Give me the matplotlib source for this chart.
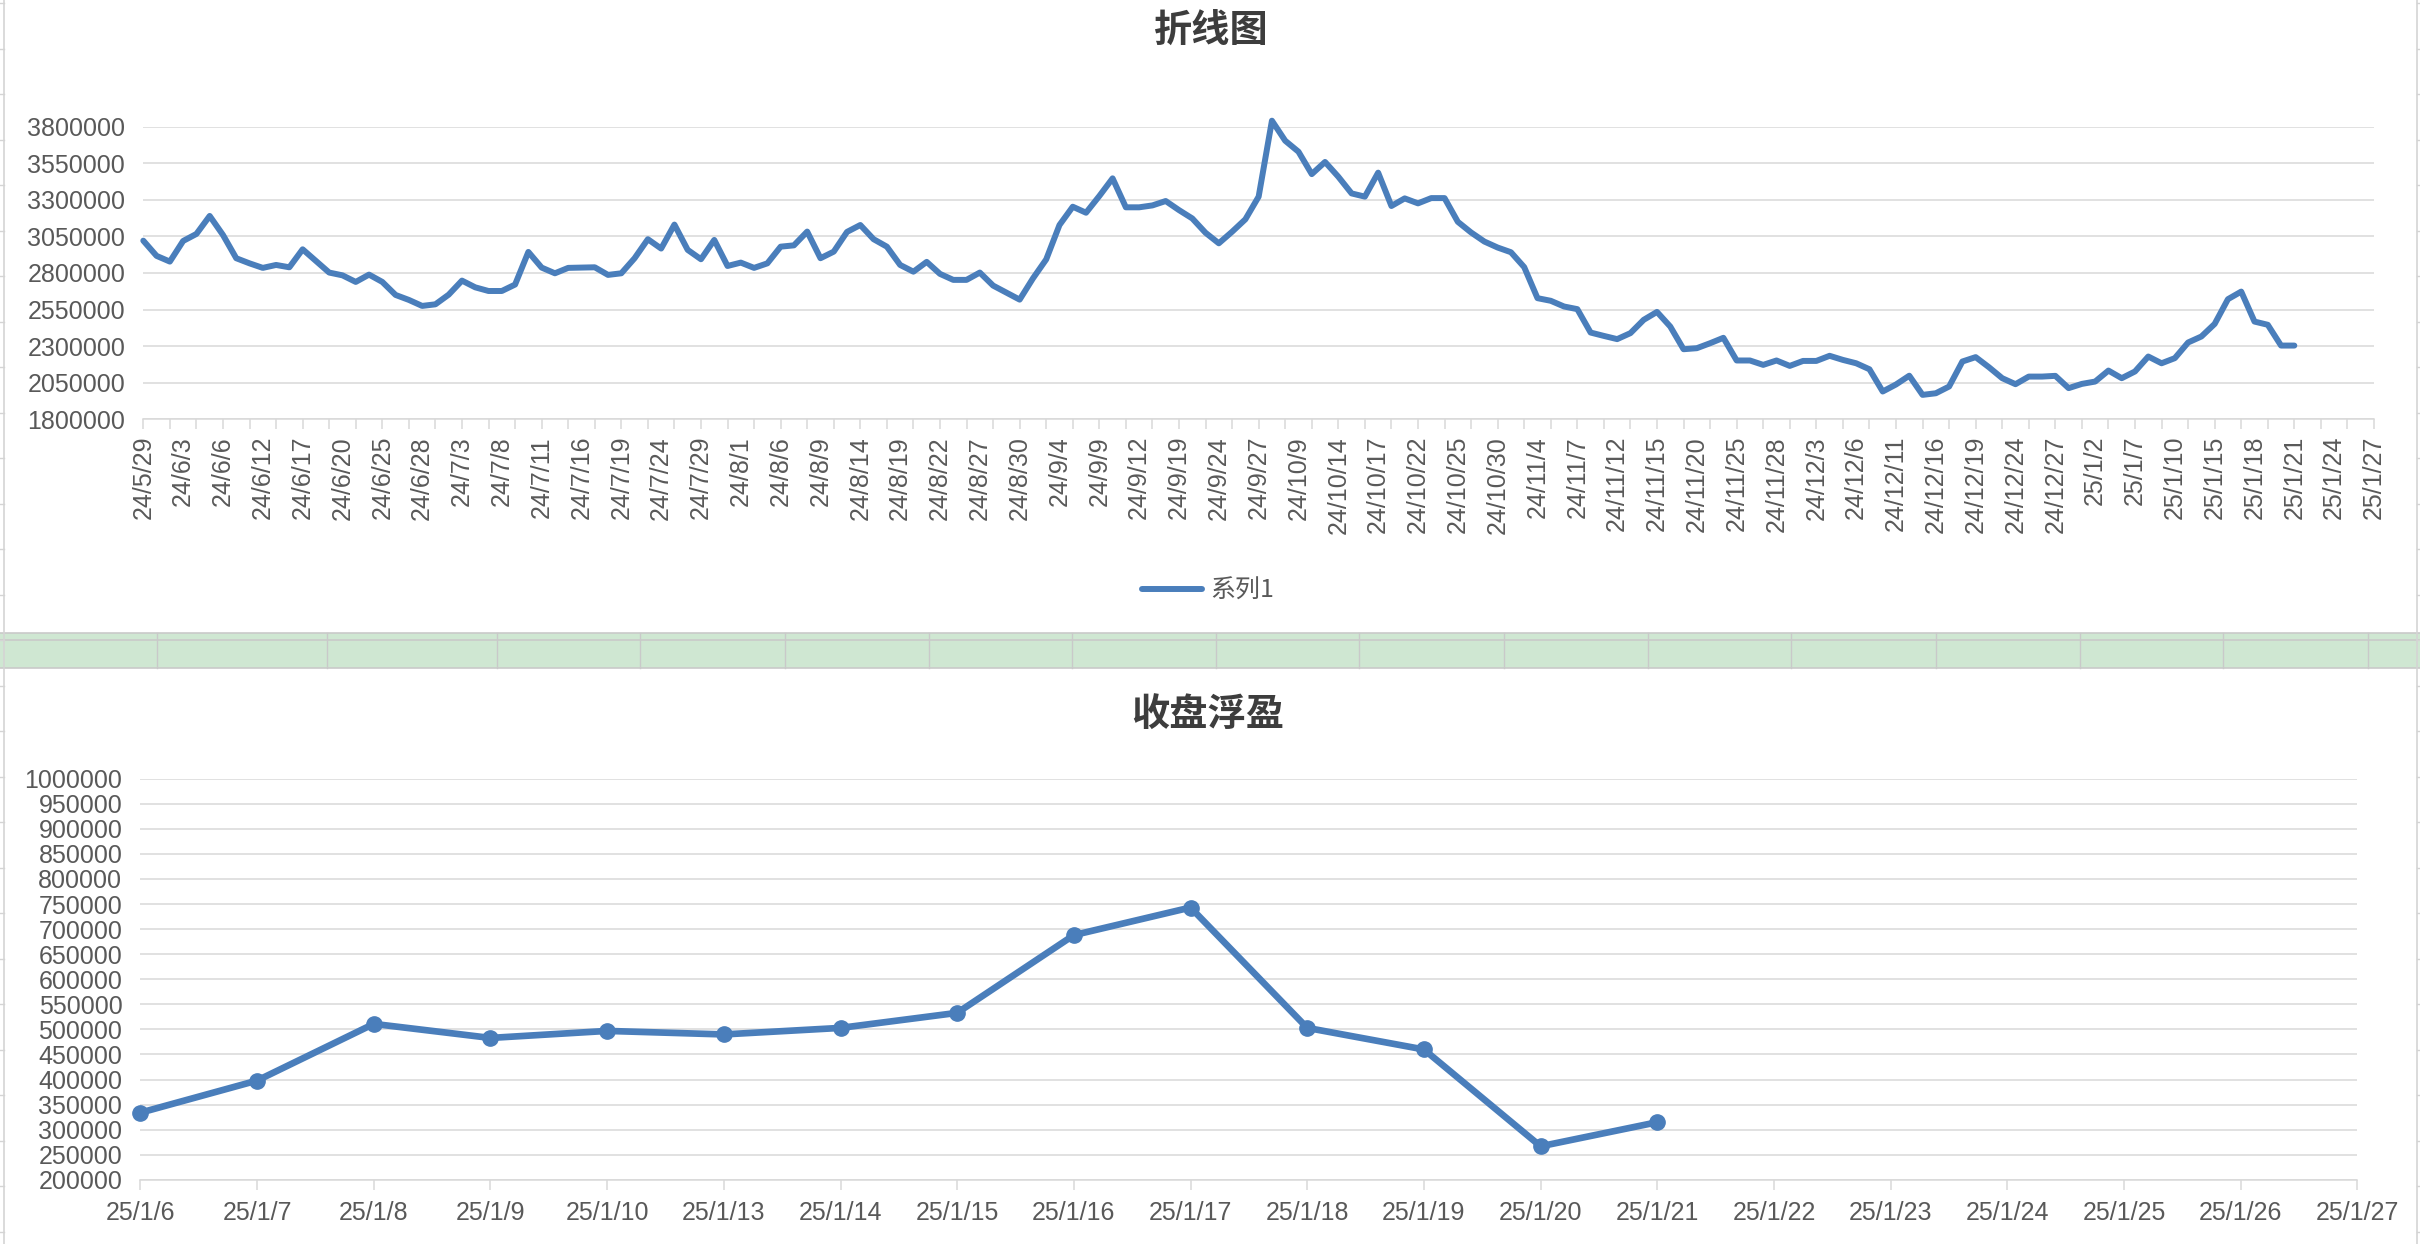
import numpy as np
import matplotlib
matplotlib.use("Agg")
import matplotlib.pyplot as plt
from matplotlib.patches import Rectangle
from matplotlib.lines import Line2D

# ---------------- data ----------------
month_days = [
    ("24/5", [29, 30, 31]),
    ("24/6", [3, 4, 5, 6, 7, 11, 12, 13, 14, 17, 18, 19, 20, 21, 24, 25, 26, 27, 28]),
    ("24/7", [1, 2, 3, 4, 5, 8, 9, 10, 11, 12, 15, 16, 17, 18, 19, 22, 23, 24, 25, 26, 29, 30, 31]),
    ("24/8", [1, 2, 5, 6, 7, 8, 9, 12, 13, 14, 15, 16, 19, 20, 21, 22, 23, 26, 27, 28, 29, 30]),
    ("24/9", [2, 3, 4, 5, 6, 9, 10, 11, 12, 13, 18, 19, 20, 23, 24, 25, 26, 27, 30]),
    ("24/10", [8, 9, 10, 11, 14, 15, 16, 17, 18, 21, 22, 23, 24, 25, 28, 29, 30, 31]),
    ("24/11", [1, 4, 5, 6, 7, 8, 11, 12, 13, 14, 15, 18, 19, 20, 21, 22, 25, 26, 27, 28, 29]),
    ("24/12", [2, 3, 4, 5, 6, 9, 10, 11, 12, 13, 16, 17, 18, 19, 20, 23, 24, 25, 26, 27, 30, 31]),
    ("25/1", [2, 3, 6, 7, 8, 9, 10, 13, 14, 15, 16, 17, 18, 19, 20, 21, 22, 23, 24, 25, 26, 27]),
]
dates_top = [f"{m}/{d}" for m, ds in month_days for d in ds]

values_top = [
    3021000, 2917000, 2878000, 3019000, 3067000, 3190000, 3060000, 2901000, 2866000, 2835000,
    2855000, 2839000, 2962000, 2882000, 2803000, 2784000, 2739000, 2789000, 2739000, 2650000,
    2616000, 2575000, 2586000, 2652000, 2748000, 2702000, 2677000, 2677000, 2721000, 2944000,
    2837000, 2798000, 2835000, 2837000, 2839000, 2787000, 2798000, 2901000, 3031000, 2967000,
    3131000, 2958000, 2894000, 3026000, 2848000, 2871000, 2835000, 2866000, 2980000, 2989000,
    3083000, 2901000, 2946000, 3081000, 3128000, 3031000, 2980000, 2855000, 2809000, 2876000,
    2794000, 2753000, 2753000, 2803000, 2714000, 2666000, 2618000, 2763000, 2893000, 3128000,
    3253000, 3212000, 3326000, 3447000, 3249000, 3249000, 3262000, 3292000, 3230000, 3173000,
    3075000, 3003000, 3082000, 3167000, 3322000, 3841000, 3704000, 3629000, 3476000, 3559000,
    3458000, 3344000, 3322000, 3486000, 3258000, 3310000, 3276000, 3312000, 3312000, 3150000,
    3077000, 3015000, 2974000, 2942000, 2840000, 2628000, 2610000, 2571000, 2553000, 2393000,
    2370000, 2348000, 2389000, 2480000, 2534000, 2434000, 2279000, 2286000, 2320000, 2357000,
    2202000, 2202000, 2172000, 2202000, 2165000, 2199000, 2199000, 2234000, 2206000, 2183000,
    2142000, 1990000, 2038000, 2098000, 1967000, 1978000, 2024000, 2195000, 2225000, 2156000,
    2081000, 2040000, 2092000, 2092000, 2097000, 2013000, 2042000, 2058000, 2133000, 2081000,
    2127000, 2229000, 2183000, 2218000, 2325000, 2366000, 2452000, 2621000, 2673000, 2468000,
    2446000, 2304000, 2304000,
]
yticks_top = [1800000, 2050000, 2300000, 2550000, 2800000, 3050000, 3300000, 3550000, 3800000]
series_name = "系列1"
title_top = "折线图"

dates_bottom = ["25/1/6", "25/1/7", "25/1/8", "25/1/9", "25/1/10", "25/1/13", "25/1/14",
                "25/1/15", "25/1/16", "25/1/17", "25/1/18", "25/1/19", "25/1/20", "25/1/21",
                "25/1/22", "25/1/23", "25/1/24", "25/1/25", "25/1/26", "25/1/27"]
values_bottom = [334000, 398000, 511000, 483000, 497000, 490000, 503000, 533000,
                 688000, 743000, 503000, 460000, 267000, 315000]
yticks_bottom = list(range(200000, 1000001, 50000))
title_bottom = "收盘浮盈"

# ---------------- style ----------------
W, H = 2420, 1244
BLUE = "#4a7ebb"
GRID = "#d9d9d9"
TXT = "#595959"
TITLE = "#3d3d3d"
CJK = ["Noto Sans CJK SC", "DejaVu Sans"]
plt.rcParams["font.family"] = ["Liberation Sans", "Noto Sans CJK SC", "DejaVu Sans"]

fig = plt.figure(figsize=(W / 100, H / 100), dpi=100)
fig.patch.set_facecolor("white")


def fx(px):
    return px / W


def fy(py):
    return 1 - py / H


# ---------------- spreadsheet background ----------------
fig.add_artist(Rectangle((0, fy(668)), 1, fy(633) - fy(668), transform=fig.transFigure,
                         facecolor="#cfe7d2", edgecolor="none", zorder=0))
for yy in (633, 640, 668):
    fig.add_artist(Line2D([0, 1], [fy(yy)] * 2, transform=fig.transFigure,
                          color="#c9c9c9", lw=1.2, zorder=1))
col_x = [157, 327, 497, 640, 785, 929, 1072, 1216, 1359, 1504, 1648, 1791, 1936, 2080, 2223, 2368]
for xx in col_x:
    fig.add_artist(Line2D([fx(xx)] * 2, [fy(633), fy(668)], transform=fig.transFigure,
                          color="#c9c9c9", lw=1.0, zorder=1))
for xx in (4, 2417):
    fig.add_artist(Line2D([fx(xx)] * 2, [0, 1], transform=fig.transFigure,
                          color="#d4d4d4", lw=1.2, zorder=1))
for yy in np.arange(640 - 45.5 * 14, H, 45.5):
    for x0, x1 in ((0, 4), (2417, W)):
        fig.add_artist(Line2D([fx(x0), fx(x1)], [fy(yy)] * 2, transform=fig.transFigure,
                              color="#d4d4d4", lw=1.0, zorder=1))

# ---------------- top chart ----------------
ax1 = fig.add_axes([fx(143.3), fy(419.3), fx(2374) - fx(143.3), fy(126.7) - fy(419.3)])
x_top = np.arange(len(values_top))
ax1.plot(x_top, values_top, color=BLUE, lw=4.3, solid_joinstyle="round",
         solid_capstyle="round", clip_on=False, zorder=3, label=series_name)
ax1.set_xlim(0, len(dates_top) - 1)
ax1.set_ylim(yticks_top[0], yticks_top[-1])
ax1.set_yticks(yticks_top)
ax1.set_yticklabels([str(v) for v in yticks_top])
lab_pos = list(range(0, len(dates_top), 3))
ax1.set_xticks(lab_pos)
ax1.set_xticklabels([dates_top[i] for i in lab_pos])
ax1.set_xticks(list(range(0, len(dates_top), 2)), minor=True)
ax1.xaxis.remove_overlapping_locs = False
ax1.tick_params(axis="x", which="major", length=0, pad=12, labelrotation=90,
                labelsize=18, labelcolor=TXT)
ax1.tick_params(axis="x", which="minor", length=7.5, width=1.1, color=GRID)
ax1.tick_params(axis="y", length=0, pad=13, labelsize=18, labelcolor=TXT)
ax1.grid(axis="y", color=GRID, lw=1.1)
ax1.set_axisbelow(True)
for s in ("left", "right", "top"):
    ax1.spines[s].set_visible(False)
ax1.spines["bottom"].set_color(GRID)
ax1.spines["bottom"].set_linewidth(1.1)
leg = ax1.legend(loc="center", bbox_to_anchor=(fx(1208), fy(591)), bbox_transform=fig.transFigure,
                 frameon=False, prop={"family": CJK, "size": 18}, handlelength=2.4,
                 handletextpad=0.35)
for t in leg.get_texts():
    t.set_color(TXT)
fig.text(fx(1210), fy(31), title_top, ha="center", va="center", fontsize=27.5,
         fontweight="bold", color=TITLE, family=CJK)

# ---------------- bottom chart ----------------
ax2 = fig.add_axes([fx(140.4), fy(1179.9), fx(2357.4) - fx(140.4), fy(778.6) - fy(1179.9)])
x_bot = np.arange(len(values_bottom))
ax2.plot(x_bot, values_bottom, color=BLUE, lw=4.8, marker="o", markersize=11,
         markerfacecolor=BLUE, markeredgecolor=BLUE, solid_joinstyle="round",
         clip_on=False, zorder=3)
ax2.set_xlim(0, len(dates_bottom) - 1)
ax2.set_ylim(yticks_bottom[0], yticks_bottom[-1])
ax2.set_yticks(yticks_bottom)
ax2.set_yticklabels([str(v) for v in yticks_bottom])
ax2.set_xticks(np.arange(len(dates_bottom)))
ax2.set_xticklabels(dates_bottom)
ax2.tick_params(axis="x", length=7.5, width=1.1, color=GRID, pad=8, labelsize=18, labelcolor=TXT)
ax2.tick_params(axis="y", length=0, pad=13, labelsize=18, labelcolor=TXT)
ax2.grid(axis="y", color=GRID, lw=1.1)
ax2.set_axisbelow(True)
for s in ("left", "right", "top"):
    ax2.spines[s].set_visible(False)
ax2.spines["bottom"].set_color(GRID)
ax2.spines["bottom"].set_linewidth(1.1)
fig.text(fx(1208), fy(715), title_bottom, ha="center", va="center", fontsize=27.5,
         fontweight="bold", color=TITLE, family=CJK)

fig.savefig("out.png", dpi=100, facecolor="white")
